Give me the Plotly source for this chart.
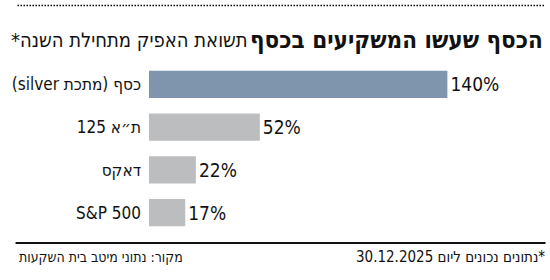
import plotly.graph_objects as go

categories = ["כסף (מתכת silver)", "ת״א 125", "דאקס", "S&P 500"]
values = [140, 52, 22, 17]
value_labels = ["140%", "52%", "22%", "17%"]
colors = ["#7f95ad", "#bcbdbf", "#bcbdbf", "#bcbdbf"]

RLE = "\u202b"
PDF = "\u202c"
FONT = "DejaVu Sans Condensed, sans-serif"

fig = go.Figure(go.Bar(
    x=values,
    y=[RLE + c + PDF for c in categories],
    orientation="h",
    marker=dict(color=colors, line=dict(width=0)),
    text=value_labels,
    textposition="outside",
    textfont=dict(size=19, color="#111", family=FONT),
    cliponaxis=False,
))

fig.update_layout(
    width=550, height=280,
    margin=dict(l=140, r=60, t=63, b=46),
    paper_bgcolor="white", plot_bgcolor="white",
    bargap=0.367,
    showlegend=False,
    xaxis=dict(range=[0, 160], visible=False, fixedrange=True),
    yaxis=dict(autorange="reversed", showgrid=False, zeroline=False, showline=False,
               ticks="", ticklabelstandoff=7,
               tickfont=dict(size=17, color="#111", family=FONT)),
    shapes=[
        dict(type="line", xref="paper", yref="paper", x0=-135/350, x1=407/350,
             y0=(280-5.5-46)/171, y1=(280-5.5-46)/171, layer="above",
             line=dict(color="#000", width=1.5, dash="1.5px,1.5px")),
        dict(type="line", xref="paper", yref="paper", x0=-137/350, x1=407/350,
             y0=(280-243-46)/171, y1=(280-243-46)/171,
             line=dict(color="#111", width=2)),
    ],
    annotations=[
        dict(text=RLE + "<b>הכסף שעשו המשקיעים בכסף</b>" + PDF, xref="paper", yref="paper",
             x=406/350, y=(280-40-46)/171, xanchor="right", yanchor="middle",
             showarrow=False, font=dict(size=24, color="#111", family=FONT)),
        dict(text=RLE + "תשואת האפיק מתחילת השנה*" + PDF, xref="paper", yref="paper",
             x=104/350, y=(280-40-46)/171, xanchor="right", yanchor="middle",
             showarrow=False, font=dict(size=20, color="#111", family=FONT)),
        dict(text=RLE + "מקור: נתוני מיטב בית השקעות" + PDF, xref="paper", yref="paper",
             x=-135/350, y=(280-257-46)/171, xanchor="left", yanchor="middle",
             showarrow=False, font=dict(size=14, color="#111", family=FONT)),
        dict(text=RLE + "*נתונים נכונים ליום 30.12.2025" + PDF, xref="paper", yref="paper",
             x=409/350, y=(280-257-46)/171, xanchor="right", yanchor="middle",
             showarrow=False, font=dict(size=15, color="#111", family=FONT)),
    ],
)

fig.write_html("out.html")
